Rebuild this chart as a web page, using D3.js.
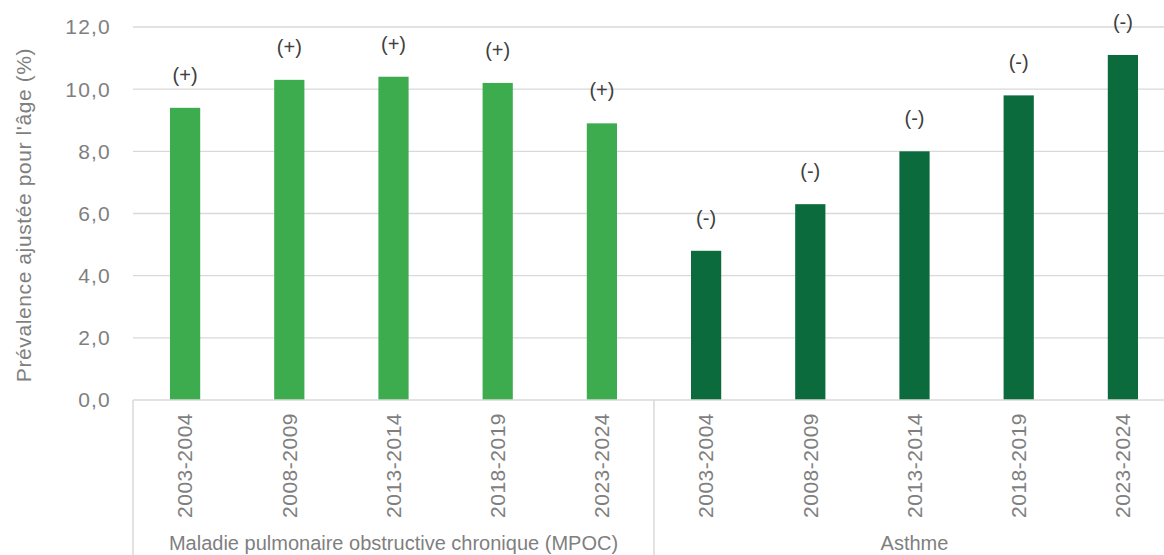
<!DOCTYPE html>
<html lang="fr">
<head>
<meta charset="UTF-8">
<title>Prévalence</title>
<script src="https://cdn.jsdelivr.net/npm/d3@7"></script>
<style>
    body{ margin:0; background:#fff; }
    text{ font-family: "Liberation Sans", Arial, sans-serif; }
</style>
</head>
<body>
<svg id="chart" width="1164" height="555"></svg>
<script>
    // data
    let groups = ["Maladie pulmonaire obstructive chronique (MPOC)", "Asthme"]
    let periods = ["2003-2004", "2008-2009", "2013-2014", "2018-2019", "2023-2024"]
    let mpoc = [9.4, 10.3, 10.4, 10.2, 8.9]
    let asthme = [4.8, 6.3, 8.0, 9.8, 11.1]
    let mpocSigns = ["(+)", "(+)", "(+)", "(+)", "(+)"]
    let asthmeSigns = ["(-)", "(-)", "(-)", "(-)", "(-)"]
    let yTicks = [0, 2, 4, 6, 8, 10, 12]
    let colors = ["#3dac4f", "#0b6b3c"]

    let rows = []
    periods.forEach(function(p, i){ rows.push({g:0, period:p, value:mpoc[i], sign:mpocSigns[i]}) })
    periods.forEach(function(p, i){ rows.push({g:1, period:p, value:asthme[i], sign:asthmeSigns[i]}) })
    rows.forEach(function(d, i){ d.key = i })

    let svg = d3.select("#chart")
    let mLeft = 133, mRight = 1175, mTop = 27, mBottom = 400

    let x = d3.scaleBand()
        .domain(rows.map(d => d.key))
        .range([mLeft, mRight])
        .paddingInner(0.71)
        .paddingOuter(0.355)

    let y = d3.scaleLinear()
        .domain([0, 12])
        .range([mBottom, mTop])

    // gridlines
    svg.append("g")
        .selectAll("line")
        .data(yTicks.filter(t => t > 0))
        .enter()
        .append("line")
        .attr("x1", mLeft)
        .attr("x2", mRight)
        .attr("y1", d => y(d))
        .attr("y2", d => y(d))
        .attr("stroke", "#d9d9d9")
        .attr("stroke-width", 1.3)

    // y tick labels
    svg.append("g")
        .selectAll("text")
        .data(yTicks)
        .enter()
        .append("text")
        .attr("x", mLeft - 22)
        .attr("y", d => y(d))
        .attr("dy", "0.35em")
        .attr("text-anchor", "end")
        .attr("fill", "#7f7f7f")
        .attr("font-size", "21px")
        .attr("letter-spacing", "1.2px")
        .text(d => d3.format(".1f")(d).replace(".", ","))

    // y title
    svg.append("text")
        .attr("transform", "translate(31," + 215 + ") rotate(-90)")
        .attr("text-anchor", "middle")
        .attr("fill", "#7f7f7f")
        .attr("font-size", "21px")
        .attr("letter-spacing", "0.6px")
        .text("Prévalence ajustée pour l'âge (%)")

    // bars
    svg.append("g")
        .selectAll("rect")
        .data(rows)
        .enter()
        .append("rect")
        .attr("x", d => x(d.key))
        .attr("width", x.bandwidth())
        .attr("y", d => y(d.value))
        .attr("height", d => y(0) - y(d.value))
        .attr("fill", d => colors[d.g])

    // sign labels
    svg.append("g")
        .selectAll("text")
        .data(rows)
        .enter()
        .append("text")
        .attr("x", d => x(d.key) + x.bandwidth() / 2)
        .attr("y", d => y(d.value) - 26)
        .attr("text-anchor", "middle")
        .attr("fill", "#404040")
        .attr("font-size", "20px")
        .text(d => d.sign)

    // x axis line
    svg.append("line")
        .attr("x1", mLeft)
        .attr("x2", mRight)
        .attr("y1", mBottom)
        .attr("y2", mBottom)
        .attr("stroke", "#d9d9d9")
        .attr("stroke-width", 1.5)

    // group separators
    let step = x.step()
    let seps = [0, 5, 10].map(i => mLeft + i * step)
    svg.append("g")
        .selectAll("line")
        .data(seps)
        .enter()
        .append("line")
        .attr("x1", d => d)
        .attr("x2", d => d)
        .attr("y1", mBottom)
        .attr("y2", 555)
        .attr("stroke", "#d9d9d9")
        .attr("stroke-width", 1.5)

    // period labels
    svg.append("g")
        .selectAll("text")
        .data(rows)
        .enter()
        .append("text")
        .attr("transform", d => "translate(" + (x(d.key) + x.bandwidth() / 2) + "," + (mBottom + 13) + ") rotate(-90)")
        .attr("dy", "0.35em")
        .attr("text-anchor", "end")
        .attr("fill", "#7f7f7f")
        .attr("font-size", "21px")
        .attr("letter-spacing", "0.5px")
        .text(d => d.period)

    // group labels
    svg.append("g")
        .selectAll("text")
        .data(groups)
        .enter()
        .append("text")
        .attr("x", (d, i) => mLeft + (i * 5 + 2.5) * step)
        .attr("y", 550)
        .attr("text-anchor", "middle")
        .attr("fill", "#7f7f7f")
        .attr("font-size", "20px")
        .text(d => d)
</script>
</body>
</html>
